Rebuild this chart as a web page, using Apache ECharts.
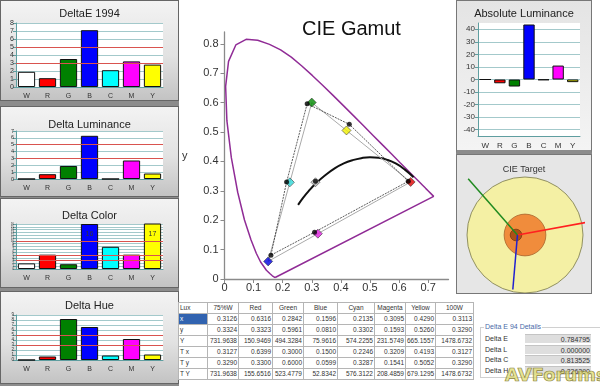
<!DOCTYPE html>
<html><head><meta charset="utf-8">
<script src="https://cdn.jsdelivr.net/npm/echarts@6/dist/echarts.min.js"></script>
<style>
body{margin:0;width:600px;height:390px;overflow:hidden;background:#fff;position:relative;font-family:Arial,"Liberation Sans",sans-serif}
.abs{position:absolute}
.panel{position:absolute;left:0;width:179px;box-sizing:border-box;border:1px solid #666;background:linear-gradient(to bottom,#f3f3f3 0%,#e2e2e2 55%,#c3c3c3 100%)}
#leftbg{position:absolute;left:0;top:0;width:179px;height:386px;background:#8c8c8c}
table{border-collapse:collapse;font-size:6.5px;color:#333;table-layout:fixed;width:295px;font-family:"Liberation Sans",Arial,sans-serif}
td{border:1px solid #b5b5b5;height:10px;padding:0 1px;text-align:right;white-space:nowrap;overflow:hidden;line-height:10px}
td.h{text-align:center}
td.l{text-align:left}
</style></head>
<body>
<div id="leftbg"></div>
<div class="panel" id="p1" style="top:0;height:101px"></div>
<div class="panel" id="p2" style="top:106px;height:91px"></div>
<div class="panel" id="p3" style="top:198px;height:90px"></div>
<div class="panel" id="p4" style="top:291px;height:93px"></div>
<div class="abs" id="gamut" style="left:179px;top:0;width:273px;height:297px;background:#fff"></div>
<div class="abs" id="absl" style="left:456px;top:0;width:136px;height:154px;box-sizing:border-box;border:1px solid #777;border-bottom:4px solid #8c8c8c;background:linear-gradient(to bottom,#e4e4e4,#f4f4f4)"></div>
<div class="abs" id="tgt" style="left:456px;top:154px;width:136px;height:140px;box-sizing:border-box;border:1px solid #777;background:#e6e6e6"></div>
<div class="abs" id="tbl" style="left:178px;top:302px"></div>
<div class="abs" id="de" style="left:480px;top:327px;width:125px;height:51px;box-sizing:border-box;border:1px solid #d0d0d0;border-right:none"></div>
<div class="abs" style="left:505px;top:364px;font-size:18px;font-weight:bold;color:rgba(226,222,120,0.8);-webkit-text-stroke:0.7px #8a8440;letter-spacing:0px;font-family:'DejaVu Sans',sans-serif;white-space:nowrap">AVForums</div>
<script>
// ---------- data ----------
const cats = ['W','R','G','B','C','M','Y'];
const deltaE1994 = [1.9, 1.1, 3.5, 7.1, 2.1, 3.2, 2.8];
const deltaLum = [0, 0.7, 1.9, 6.3, 0, 2.7, 0.8];
const deltaColor = [2.0, 5.1, 1.7, 16, 7.9, 5.1, 17];
const deltaHue = [0, 0.7, 8.2, 6.6, 0.9, 4.2, 1.1];
const absLum = [0, -3.0, -5.6, 43.8, -0.4, 11.1, -2.1];
const absTicks = [-40, -30, -20, -10, 0, 10, 20, 30, 40];

const tableCols = ['Lux','75%W','Red','Green','Blue','Cyan','Magenta','Yellow','100W'];
const rowLabels = ['x','y','Y','T x','T y','T Y'];
const mx = [0.3126, 0.6316, 0.2842, 0.1596, 0.2135, 0.3095, 0.4290, 0.3113];
const my = [0.3324, 0.3323, 0.5961, 0.0810, 0.3302, 0.1593, 0.5260, 0.3290];
const mY = [731.9638, 150.9469, 494.3284, 75.9616, 574.2255, 231.5749, 665.1557, 1478.6732];
const tx = [0.3127, 0.6399, 0.3000, 0.1500, 0.2246, 0.3209, 0.4193, 0.3127];
const ty = [0.3290, 0.3300, 0.6000, 0.0599, 0.3287, 0.1541, 0.5052, 0.3290];
const tY = [731.9638, 155.6516, 523.4779, 52.8342, 576.3122, 208.4859, 679.1295, 1478.6732];

const locus = [[0.1741,0.0050],[0.1733,0.0048],[0.1714,0.0051],[0.1689,0.0069],[0.1644,0.0109],[0.1566,0.0177],[0.1440,0.0297],[0.1241,0.0578],[0.1096,0.0868],[0.0913,0.1327],[0.0687,0.2007],[0.0454,0.2950],[0.0235,0.4127],[0.0082,0.5384],[0.0039,0.6548],[0.0139,0.7400],[0.0389,0.7960],[0.0743,0.8150],[0.1142,0.8120],[0.1547,0.7980],[0.1929,0.7790],[0.2296,0.7543],[0.2658,0.7243],[0.3016,0.6923],[0.3373,0.6589],[0.3731,0.6245],[0.4087,0.5896],[0.4441,0.5547],[0.4788,0.5202],[0.5125,0.4866],[0.5448,0.4544],[0.5752,0.4242],[0.6029,0.3965],[0.6270,0.3725],[0.6482,0.3514],[0.6658,0.3340],[0.6801,0.3197],[0.6915,0.3083],[0.7006,0.2993],[0.7079,0.2920],[0.7140,0.2859],[0.7190,0.2809],[0.1741,0.0050]];
const planck = [[0.253,0.252],[0.270,0.276],[0.290,0.300],[0.313,0.324],[0.345,0.352],[0.380,0.377],[0.410,0.393],[0.440,0.404],[0.470,0.411],[0.500,0.414],[0.530,0.412],[0.560,0.405],[0.590,0.392],[0.620,0.372],[0.650,0.346]];
const polyOrder = [1, 6, 2, 4, 3, 5, 1];
const pointIdx = [0, 1, 2, 3, 4, 5, 6];

const ringRadii = [1.0, 0.36, 0.1];
const ringCx = [0, 0, -0.155];
const vecStart = [-0.13, 0];
const vecEnds = [[1.07, 0.22], [-0.98, 0.97], [-0.21, -0.94]];

const deLabels = ['Delta E','Delta L','Delta C','Delta H'];
const deValues = ['0.784795','0.000000','0.813525','0.226290'];

// ---------- styles ----------
const barColors = ['#ffffff','#ff0000','#008000','#0000ff','#00ffff','#ff00ff','#ffff00'];
const diamondColors = ['#c8c8c8','#e00000','#008a00','#0000e0','#30d8d8','#e020e0','#f0f000'];
const teal = '#5f9ea0', gridTeal = '#a3c9cb', red = '#d9534f';

function barChart(id, title, titleTop, grid, values, max, interval, reds, labelFont, valueLabels) {
  const c = echarts.init(document.getElementById(id));
  c.setOption({
    animation: false,
    title: {text: title, left: 'center', top: titleTop, textStyle: {fontSize: 11, fontWeight: 'normal', color: '#222', fontFamily: 'Arial'}},
    grid: Object.assign({show: true, backgroundColor: '#fff', borderWidth: 0}, grid),
    xAxis: {type: 'category', data: cats,
      axisLine: {lineStyle: {color: teal}}, axisTick: {length: 3, lineStyle: {color: teal}},
      axisLabel: {fontSize: 7, color: '#333', margin: 6, fontFamily: 'Arial'}},
    yAxis: {type: 'value', min: 0, max: max, interval: interval,
      axisLine: {show: true, lineStyle: {color: teal}}, axisTick: {show: true, length: 3, lineStyle: {color: teal}},
      axisLabel: {fontSize: labelFont, color: '#333', margin: 2, fontFamily: 'Arial'},
      splitLine: {lineStyle: {color: gridTeal}}},
    series: [{type: 'bar', barCategoryGap: '18%',
      data: values.map((v, i) => ({value: v, itemStyle: {color: barColors[i]}})),
      itemStyle: {borderColor: '#111', borderWidth: 1},
      label: {show: !!valueLabels, position: 'insideTop', distance: 7, fontSize: 7, color: '#333',
        formatter: p => (valueLabels && valueLabels[p.dataIndex]) || ''},
      markLine: {silent: true, symbol: 'none', label: {show: false}, lineStyle: {color: red, type: 'solid', width: 1},
        data: reds.map(v => ({yAxis: v}))}
    }]
  });
}
barChart('p1', 'DeltaE 1994', 2, {left: 15, right: 15, top: 22, height: 65}, deltaE1994, 8, 1, [3, 5], 7);
barChart('p2', 'Delta Luminance', 7, {left: 15, right: 15, top: 24, height: 48}, deltaLum, 7, 1, [3, 5], 5.5);
barChart('p3', 'Delta Color', 6, {left: 15, right: 15, top: 25, height: 45}, deltaColor, 16, 1, [3, 5, 10], 3,
  ['', '', '', String(deltaColor[3]), '', '', String(deltaColor[6])]);
barChart('p4', 'Delta Hue', 3, {left: 15, right: 15, top: 23, height: 45}, deltaHue, 9, 1, [3, 5], 4.5);

// ---------- CIE gamut ----------
const g = echarts.init(document.getElementById('gamut'));
const axisCol = '#8a8a8a';
g.setOption({
  animation: false,
  title: {text: 'CIE Gamut', left: 118, top: 14, textStyle: {fontSize: 20, fontWeight: 'normal', color: '#111', fontFamily: 'Arial'}},
  grid: {left: 40, top: 32, width: 229.5, height: 247},
  xAxis: {type: 'value', min: 0, max: 0.77, interval: 0.1,
    axisLine: {lineStyle: {color: axisCol, width: 1.3}}, axisTick: {length: 4, lineStyle: {color: axisCol}},
    axisLabel: {fontSize: 11, color: '#333', margin: 3, showMaxLabel: false, formatter: v => String(+v.toFixed(1))},
    splitLine: {show: false}},
  yAxis: {type: 'value', min: 0, max: 0.84, interval: 0.1, name: 'y', nameLocation: 'middle', nameGap: 37, nameRotate: 0,
    nameTextStyle: {fontSize: 11, color: '#333'},
    axisLine: {show: true, lineStyle: {color: axisCol, width: 1.3}}, axisTick: {show: true, length: 4, lineStyle: {color: axisCol}},
    axisLabel: {fontSize: 11, color: '#333', margin: 6, showMaxLabel: false, formatter: v => String(+v.toFixed(1))},
    splitLine: {show: false}},
  series: [
    {type: 'line', data: locus, symbol: 'none', lineStyle: {color: '#902c96', width: 1.5}, z: 2},
    {type: 'line', data: planck, symbol: 'none', smooth: true, lineStyle: {color: '#111', width: 2}, z: 3},
    {type: 'line', data: polyOrder.map(i => [tx[i], ty[i]]), symbol: 'none', lineStyle: {color: '#aaa', width: 1}, z: 3},
    {type: 'line', data: polyOrder.map(i => [mx[i], my[i]]), symbol: 'none', lineStyle: {color: '#333', width: 0.8, type: [2, 1]}, z: 4},
    {type: 'scatter', symbol: 'diamond', symbolSize: 9, z: 5,
      data: pointIdx.map(i => ({value: [tx[i], ty[i]], itemStyle: {color: diamondColors[i]}})),
      itemStyle: {borderColor: '#333', borderWidth: 0.7}},
    {type: 'scatter', symbol: 'circle', symbolSize: 5, z: 6,
      data: pointIdx.map(i => [mx[i], my[i]]), itemStyle: {color: '#000'}}
  ]
});

// ---------- Absolute luminance ----------
const a = echarts.init(document.getElementById('absl'));
a.setOption({
  animation: false,
  title: {text: 'Absolute Luminance', left: 'center', top: 2, textStyle: {fontSize: 11, fontWeight: 'normal', color: '#222', fontFamily: 'Arial'}},
  grid: {left: 21, right: 11, top: 22, height: 115, show: true, backgroundColor: '#fff', borderWidth: 0},
  xAxis: {type: 'category', data: cats, axisLine: {onZero: false, lineStyle: {color: teal}},
    axisTick: {length: 3, lineStyle: {color: teal}}, axisLabel: {fontSize: 8, color: '#333', margin: 6}},
  yAxis: {type: 'value', min: -45, max: 45,
    axisLine: {show: true, lineStyle: {color: teal}},
    axisTick: {show: true, length: 3, customValues: absTicks, lineStyle: {color: teal}},
    axisLabel: {fontSize: 8, color: '#333', margin: 3, customValues: absTicks},
    splitLine: {lineStyle: {color: gridTeal}}},
  series: [{type: 'bar', barCategoryGap: '22%',
    data: absLum.map((v, i) => ({value: v, itemStyle: {color: barColors[i]}})),
    itemStyle: {borderColor: '#111', borderWidth: 1}}]
});

// ---------- CIE target ----------
const t = echarts.init(document.getElementById('tgt'));
const ringFill = ['#f4f0a4', '#f08c3c', 'rgba(150,60,10,0.75)'];
const ringStroke = ['#77774a', '#a8642c', '#7a3a10'];
const vecCol = ['#ff2020', '#208a20', '#2020d0'];
t.setOption({
  animation: false,
  title: {text: 'CIE Target', left: 'center', top: 5, textStyle: {fontSize: 9, fontWeight: 'normal', color: '#333', fontFamily: 'Arial'}},
  grid: {left: 10, top: 22, width: 116, height: 116},
  xAxis: {type: 'value', min: -1, max: 1, show: false},
  yAxis: {type: 'value', min: -1, max: 1, show: false},
  series: [
    {type: 'custom', data: ringRadii.map((r, i) => [ringCx[i], 0, r, i]), z: 1,
      renderItem: (p, api) => {
        const c = api.coord([api.value(0), api.value(1)]);
        const r = api.size([api.value(2), 0])[0];
        const i = api.value(3);
        return {type: 'circle', shape: {cx: c[0], cy: c[1], r: r}, style: {fill: ringFill[i], stroke: ringStroke[i], lineWidth: 0.8}};
      }},
    ...vecEnds.map((e, i) => ({type: 'line', data: [vecStart, e], symbol: 'none', z: 3,
      lineStyle: {color: vecCol[i], width: 1.5}}))
  ]
});

// ---------- table ----------
let h = '<table><colgroup>';
[29, 31, 34, 31, 34, 37, 31, 30, 38].forEach(w => h += '<col style="width:' + w + 'px">');
h += '</colgroup><tr>' + tableCols.map((c, i) => '<td class="' + (i ? 'h' : 'l') + '">' + c + '</td>').join('') + '</tr>';
const rows = [mx, my, mY, tx, ty, tY];
rows.forEach((r, k) => {
  h += '<tr><td class="l"' + (k === 0 ? ' style="background:#3163b0;color:#fff"' : '') + '>' + rowLabels[k] + '</td>' +
    r.map(v => '<td>' + v.toFixed(4) + '</td>').join('') + '</tr>';
});
h += '</table>';
document.getElementById('tbl').innerHTML = h;

// ---------- Delta E 94 details ----------
let d = '<div style="position:absolute;left:3px;top:-5px;background:#fff;padding:0 1px;font-size:7px;color:#4a6aa8">Delta E 94 Details</div>';
deLabels.forEach((l, i) => {
  d += '<div style="position:absolute;left:4px;top:' + (7 + i * 10.5) + 'px;font-size:7px;color:#333">' + l + '</div>' +
    '<div style="position:absolute;left:44px;top:' + (6 + i * 10.5) + 'px;width:66px;height:9px;background:#dedede;border-top:1px solid #c4c4c4;font-size:7px;line-height:9px;text-align:right;color:#333;box-sizing:border-box;padding-right:1px">' + deValues[i] + '</div>';
});
document.getElementById('de').innerHTML = d;
</script>
</body></html>
